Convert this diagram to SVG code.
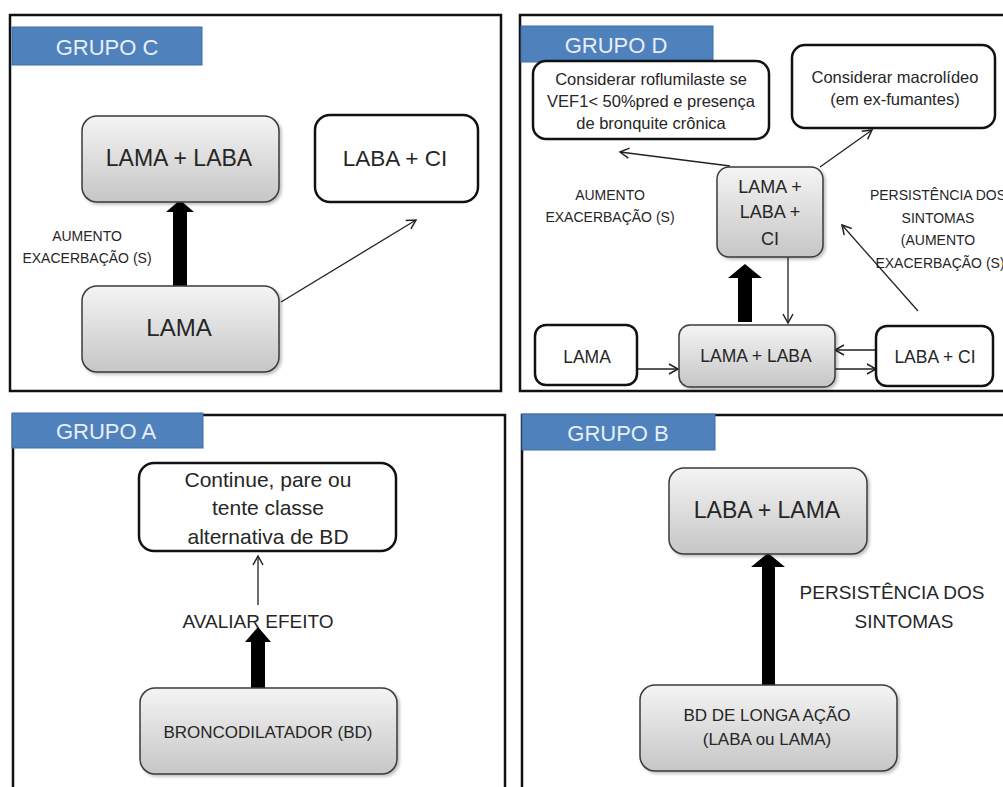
<svg xmlns="http://www.w3.org/2000/svg" width="1003" height="787" viewBox="0 0 1003 787">
<defs>
<linearGradient id="gg" x1="0" y1="0" x2="0" y2="1">
<stop offset="0" stop-color="#f4f4f4"/>
<stop offset="1" stop-color="#c6c6c6"/>
</linearGradient>
<filter id="sh" x="-10%" y="-10%" width="125%" height="130%">
<feDropShadow dx="2" dy="2" stdDeviation="1.5" flood-color="#000" flood-opacity="0.25"/>
</filter>
<marker id="ah" markerUnits="userSpaceOnUse" markerWidth="14" markerHeight="14" refX="10" refY="6" orient="auto">
<path d="M1,1 L10,6 L1,11" fill="none" stroke="#222" stroke-width="1.5"/>
</marker>
</defs>
<style>
.panel{fill:#fff;stroke:#111;stroke-width:2.5}
.hdr{fill:#4f81bd;stroke:#3e6ea8;stroke-width:1}
.hdrt{font-family:"Liberation Sans",Arial,sans-serif;font-size:22px;fill:#e8eef7;text-anchor:middle}
.gray{fill:url(#gg);stroke:#3a3a3a;stroke-width:1.5;filter:url(#sh)}
.white{fill:#fff;stroke:#111;stroke-width:2.5}
.t{font-family:"Liberation Sans",Arial,sans-serif;fill:#262626;text-anchor:middle}
.thin{stroke:#222;stroke-width:1.3;fill:none;marker-end:url(#ah)}
.thick{fill:#000}
</style>

<!-- Panels -->
<g id="panel-c">
<rect class="panel" x="10" y="15" width="491" height="376"/>
<rect class="hdr" x="12" y="27" width="190" height="38"/>
<text class="hdrt" x="107" y="55">GRUPO C</text>
</g>
<g id="panel-d">
<rect class="panel" x="520" y="15" width="500" height="376"/>
<rect class="hdr" x="521" y="26" width="192" height="36"/>
<text class="hdrt" x="616" y="53">GRUPO D</text>
</g>
<g id="panel-a">
<rect class="panel" x="13" y="415" width="492" height="400"/>
<rect class="hdr" x="12" y="413" width="191" height="35"/>
<text class="hdrt" x="106" y="439">GRUPO A</text>
</g>
<g id="panel-b">
<rect class="panel" x="522" y="415" width="500" height="400"/>
<rect class="hdr" x="522" y="414" width="193" height="36"/>
<text class="hdrt" x="618" y="441">GRUPO B</text>
</g>

<!-- Connectors -->
<g id="connectors">
<polygon class="thick" points="173,286 187,286 187,212 194,212 180,200 166,212 173,212"/>
<line class="thin" x1="281" y1="302" x2="416" y2="220"/>
<line class="thin" x1="730" y1="166" x2="620" y2="152"/>
<line class="thin" x1="820" y1="167" x2="872" y2="130"/>
<line class="thin" x1="788" y1="257" x2="788" y2="323"/>
<polygon class="thick" points="738,322 752,322 752,278 762,278 745,264 728,278 738,278"/>
<line class="thin" x1="918" y1="311" x2="842" y2="225"/>
<line class="thin" x1="637" y1="369" x2="678" y2="369"/>
<line class="thin" x1="876" y1="350" x2="835" y2="350"/>
<line class="thin" x1="835" y1="369" x2="876" y2="369"/>
<line class="thin" x1="258" y1="605" x2="258" y2="556"/>
<polygon class="thick" points="251,688 265,688 265,642 271,642 258,627 245,642 251,642"/>
<polygon class="thick" points="762,685 775,685 775,567 785,567 768,553 751,567 762,567"/>
</g>

<!-- Group C nodes -->
<g id="c-lama-laba">
<rect class="gray" x="82" y="116" width="197" height="86" rx="15"/>
<text class="t" x="179" y="166" font-size="23">LAMA + LABA</text>
</g>
<g id="c-laba-ci">
<rect class="white" x="315" y="115" width="163" height="87" rx="15"/>
<text class="t" x="395" y="166" font-size="22.5">LABA + CI</text>
</g>
<g id="c-lama">
<rect class="gray" x="82" y="286" width="197" height="86" rx="15"/>
<text class="t" x="179" y="336" font-size="24">LAMA</text>
</g>
<g id="c-label">
<text class="t" x="87" y="241" font-size="14">AUMENTO</text>
<text class="t" x="87" y="263" font-size="14">EXACERBAÇÃO (S)</text>
</g>

<!-- Group D nodes -->
<g id="d-roflumilaste">
<rect class="white" x="533" y="61" width="236" height="78" rx="13"/>
<text class="t" x="651" y="85" font-size="16.5">Considerar roflumilaste se</text>
<text class="t" x="651" y="107" font-size="16.5">VEF1&lt; 50%pred e presença</text>
<text class="t" x="651" y="129" font-size="16.5">de bronquite crônica</text>
</g>
<g id="d-macrolideo">
<rect class="white" x="792" y="45" width="203" height="83" rx="13"/>
<text class="t" x="895" y="83" font-size="16.5">Considerar macrolídeo</text>
<text class="t" x="895" y="105" font-size="16.5">(em ex-fumantes)</text>
</g>
<g id="d-lama-laba-ci">
<rect class="gray" x="717" y="167" width="106" height="90" rx="12"/>
<text class="t" x="770" y="193" font-size="18">LAMA +</text>
<text class="t" x="770" y="218" font-size="18">LABA +</text>
<text class="t" x="770" y="245" font-size="18">CI</text>
</g>
<g id="d-label-left">
<text class="t" x="610" y="200" font-size="14">AUMENTO</text>
<text class="t" x="610" y="222" font-size="14">EXACERBAÇÃO (S)</text>
</g>
<g id="d-label-right">
<text class="t" x="938" y="200" font-size="14">PERSISTÊNCIA DOS</text>
<text class="t" x="938" y="222.5" font-size="14">SINTOMAS</text>
<text class="t" x="938" y="245" font-size="14">(AUMENTO</text>
<text class="t" x="940" y="267.5" font-size="14">EXACERBAÇÃO (S)</text>
</g>
<g id="d-lama">
<rect class="white" x="535" y="325" width="102" height="60" rx="11"/>
<text class="t" x="587" y="363" font-size="17.5">LAMA</text>
</g>
<g id="d-lama-laba">
<rect class="gray" x="679" y="325" width="156" height="62" rx="11"/>
<text class="t" x="756" y="362" font-size="17.5">LAMA + LABA</text>
</g>
<g id="d-laba-ci">
<rect class="white" x="876" y="326" width="117" height="60" rx="11"/>
<text class="t" x="935" y="363" font-size="17.5">LABA + CI</text>
</g>

<!-- Group A nodes -->
<g id="a-continue">
<rect class="white" x="139" y="463" width="257" height="88" rx="15"/>
<text class="t" x="268" y="487" font-size="21">Continue, pare ou</text>
<text class="t" x="268" y="515" font-size="21">tente classe</text>
<text class="t" x="268" y="544" font-size="21">alternativa de  BD</text>
</g>
<g id="a-label">
<text class="t" x="258" y="628" font-size="19">AVALIAR EFEITO</text>
</g>
<g id="a-bd">
<rect class="gray" x="140" y="688" width="257" height="86" rx="15"/>
<text class="t" x="268" y="738" font-size="17">BRONCODILATADOR (BD)</text>
</g>

<!-- Group B nodes -->
<g id="b-laba-lama">
<rect class="gray" x="669" y="468" width="198" height="86" rx="15"/>
<text class="t" x="767" y="518" font-size="23">LABA + LAMA</text>
</g>
<g id="b-label">
<text class="t" x="892" y="599" font-size="19">PERSISTÊNCIA DOS</text>
<text class="t" x="904" y="628" font-size="19">SINTOMAS</text>
</g>
<g id="b-bd">
<rect class="gray" x="640" y="685" width="257" height="86" rx="15"/>
<text class="t" x="767" y="721" font-size="17">BD DE LONGA AÇÃO</text>
<text class="t" x="767" y="745" font-size="17">(LABA ou LAMA)</text>
</g>
</svg>
